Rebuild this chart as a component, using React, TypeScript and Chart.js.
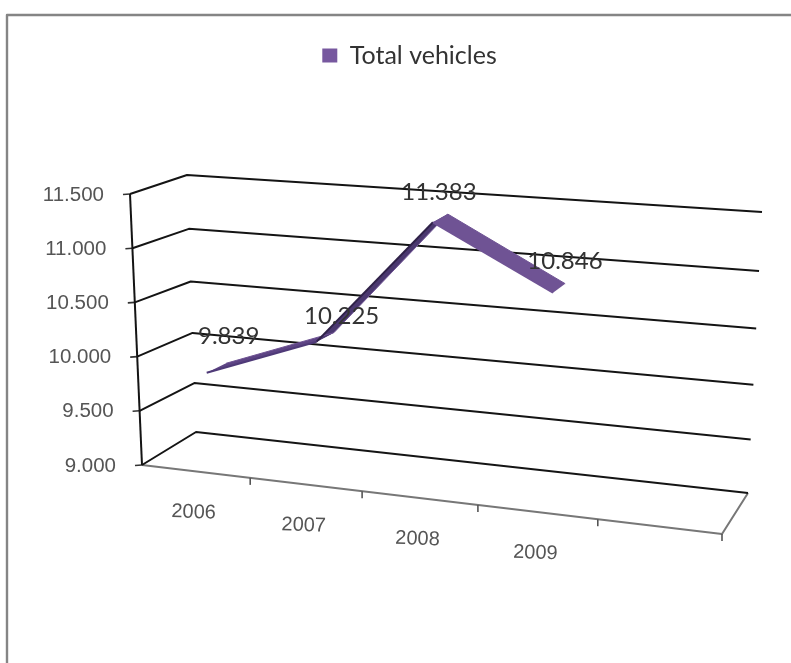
import React, { useEffect, useRef } from "react";
import { Chart, registerables } from "chart.js";

Chart.register(...registerables);

const categories = ["2006", "2007", "2008", "2009", ""];
const totalVehicles = [9839, 10225, 11383, 10846];
const seriesName = "Total vehicles";

const PURPLE = "#6f5394";
const LEGEND_PURPLE = "#77589f";
const DARK = "#2f2148";
const FACE_COLORS = ["#5d4484", "#4b3870", PURPLE];
const LABEL_OFFSETS = [[22, -36], [25, -25], [6, -30], [12, -31]];
const FRONT_DEPTH = 0.27;
const BACK_DEPTH = 0.64;

// Corners of the 3D box: F = front, B = back; first digit u (left/right), second v (bottom/top)
const F00 = [142, 465], F10 = [722, 534], F01 = [130, 194], F11 = [741, 238];
const B00 = [196, 432], B10 = [748, 493], B01 = [187, 175], B11 = [762, 212];
const R = 1.09;

const mix = (a: number[], b: number[], t: number) => [a[0] + (b[0] - a[0]) * t, a[1] + (b[1] - a[1]) * t];

function warp(u: number, v: number, d: number) {
  const t = u / (R - (R - 1) * u);
  const vb = v - 0.06 * v * (1 - v);
  const front = mix(mix(F00, F10, t), mix(F01, F11, t), v);
  const back = mix(mix(B00, B10, t), mix(B01, B11, t), vb);
  return mix(front, back, d);
}

const fracX = (chart: any, px: number) => {
  const s = chart.scales.x;
  return (px - s.left) / (s.right - s.left);
};
const fracY = (chart: any, py: number) => {
  const s = chart.scales.y;
  return (s.bottom - py) / (s.bottom - s.top);
};

const formatThousands = (v: number) => {
  const s = String(Math.round(v));
  return s.slice(0, s.length - 3) + "." + s.slice(s.length - 3);
};

const line = (ctx: CanvasRenderingContext2D, pts: number[][], color: string, width: number) => {
  ctx.save();
  ctx.strokeStyle = color;
  ctx.lineWidth = width;
  ctx.lineJoin = "round";
  ctx.beginPath();
  pts.forEach((p, i) => (i ? ctx.lineTo(p[0], p[1]) : ctx.moveTo(p[0], p[1])));
  ctx.stroke();
  ctx.restore();
};

const perspectivePlugin = {
  id: "perspective",
  afterLayout(chart: any) {
    const legend = chart.legend;
    if (legend) {
      const shift = 24;
      legend.left += shift;
      legend.right += shift;
      const h = legend.bottom - legend.top;
      legend.top = 33;
      legend.bottom = 33 + h;
    }
  },
  afterDatasetsUpdate(chart: any) {
    const { x, y } = chart.scales;
    chart.data.datasets.forEach((ds: any, di: number) => {
      const meta = chart.getDatasetMeta(di);
      meta.data.forEach((el: any, i: number) => {
        const p = warp(fracX(chart, x.getPixelForValue(i)), fracY(chart, y.getPixelForValue(ds.data[i])), ds.depth);
        el.x = p[0];
        el.y = p[1];
      });
    });
  },
  beforeDraw(chart: any) {
    const { ctx, width, height } = chart;
    ctx.save();
    ctx.fillStyle = "#fff";
    ctx.fillRect(0, 0, width, height);
    ctx.restore();
    line(ctx, [[7, height], [7, 15], [width, 15]], "#858585", 2.4);

    const { x, y } = chart.scales;
    y.getLabelItems().forEach((item: any, i: number) => {
      const v = fracY(chart, y.getPixelForValue(y.ticks[i].value));
      const a = warp(0, v, 0);
      item.options.translation = [a[0] - 26, a[1] + 1];
      item.options.textAlign = "right";
      item.options.textBaseline = "middle";
      item.textOffset = 0;
    });
    x.getLabelItems().forEach((item: any, i: number) => {
      const a = warp(fracX(chart, x.getPixelForValue(i)), 0, 0);
      item.options.translation = [a[0] - 2, a[1] + 41];
      item.options.textAlign = "center";
      item.options.textBaseline = "middle";
      item.options.rotation = 0.035;
      item.textOffset = 0;
    });
  },
  beforeDatasetsDraw(chart: any) {
    const { ctx } = chart;
    const { y } = chart.scales;
    // Floor
    line(ctx, [warp(0, 0, 0), warp(1, 0, 0), warp(1, 0, 1)], "#777", 2);
    // Category tick marks on the front edge of the floor
    for (let i = 1; i <= categories.length; i++) {
      const a = warp(i / categories.length, 0, 0);
      line(ctx, [a, [a[0], a[1] + 7]], "#555", 1.6);
    }
    // Walls and value gridlines
    y.ticks.forEach((t: any) => {
      const v = fracY(chart, y.getPixelForValue(t.value));
      const front = warp(0, v, 0);
      line(ctx, [front, warp(0, v, 1), warp(1, v, 1)], "#141414", 2);
      line(ctx, [[front[0] - 7, front[1] + 0.5], front], "#333", 1.6);
    });
    line(ctx, [warp(0, 0, 0), warp(0, 1, 0)], "#141414", 2);
    // Ribbon faces between the two edges of the series
    const f = chart.getDatasetMeta(0).data;
    const b = chart.getDatasetMeta(1).data;
    for (let i = 0; i < f.length - 1; i++) {
      ctx.save();
      ctx.fillStyle = FACE_COLORS[i];
      ctx.beginPath();
      ctx.moveTo(f[i].x, f[i].y);
      ctx.lineTo(f[i + 1].x, f[i + 1].y);
      ctx.lineTo(b[i + 1].x, b[i + 1].y);
      ctx.lineTo(b[i].x, b[i].y);
      ctx.closePath();
      ctx.fill();
      ctx.restore();
    }
  },
  afterDatasetsDraw(chart: any) {
    const { ctx } = chart;
    const f = chart.getDatasetMeta(0).data;
    ctx.save();
    ctx.fillStyle = "#333";
    ctx.font = "24px Lato";
    ctx.textAlign = "center";
    ctx.textBaseline = "middle";
    totalVehicles.forEach((v, i) => {
      ctx.fillText(formatThousands(v), f[i].x + LABEL_OFFSETS[i][0], f[i].y + LABEL_OFFSETS[i][1]);
    });
    ctx.restore();
  },
};

export default function App() {
  const ref = useRef<HTMLCanvasElement | null>(null);
  useEffect(() => {
    const chart = new Chart(ref.current as HTMLCanvasElement, {
      type: "line",
      data: {
        labels: categories,
        datasets: [
          {
            label: seriesName,
            data: totalVehicles,
            depth: FRONT_DEPTH,
            clip: false,
            tension: 0,
            pointRadius: 0,
            borderWidth: 2,
            borderColor: "#4f3a78",
            backgroundColor: LEGEND_PURPLE,
            segment: {
              borderColor: (c: any) => (c.p0DataIndex === 1 ? DARK : c.p0DataIndex === 0 ? "#4f3a78" : PURPLE),
            },
          } as any,
          {
            label: "back edge",
            data: totalVehicles,
            depth: BACK_DEPTH,
            clip: false,
            tension: 0,
            pointRadius: 0,
            borderWidth: 1,
            borderColor: PURPLE,
            backgroundColor: PURPLE,
          } as any,
        ],
      },
      options: {
        animation: false,
        responsive: false,
        layout: { padding: { left: 20, right: 40, top: 0, bottom: 100 } },
        plugins: {
          tooltip: { enabled: false },
          legend: {
            position: "top",
            labels: {
              filter: (item: any) => {
                item.lineWidth = 0;
                item.strokeStyle = LEGEND_PURPLE;
                return item.datasetIndex === 0;
              },
              boxWidth: 15,
              boxHeight: 14,
              padding: 10,
              color: "#333",
              font: { family: "Lato", size: 25 },
            },
          },
        },
        scales: {
          x: {
            type: "category",
            offset: true,
            grid: { display: false },
            border: { display: false },
            ticks: { mirror: true, autoSkip: false, maxRotation: 0, color: "#555", font: { family: "Liberation Sans", size: 20 } },
          },
          y: {
            type: "linear",
            min: 9000,
            max: 11500,
            grid: { display: false },
            border: { display: false },
            ticks: {
              mirror: true,
              stepSize: 500,
              color: "#555",
              font: { family: "Liberation Sans", size: 20.5 },
              callback: (v: any) => formatThousands(Number(v)),
            },
          },
        },
      },
      plugins: [perspectivePlugin],
    } as any);
    return () => chart.destroy();
  }, []);
  return (
    <canvas
      ref={ref}
      width={791}
      height={663}
      style={{ position: "absolute", left: 0, top: 0, width: 791, height: 663, display: "block", filter: "blur(0.5px)" }}
    />
  );
}
